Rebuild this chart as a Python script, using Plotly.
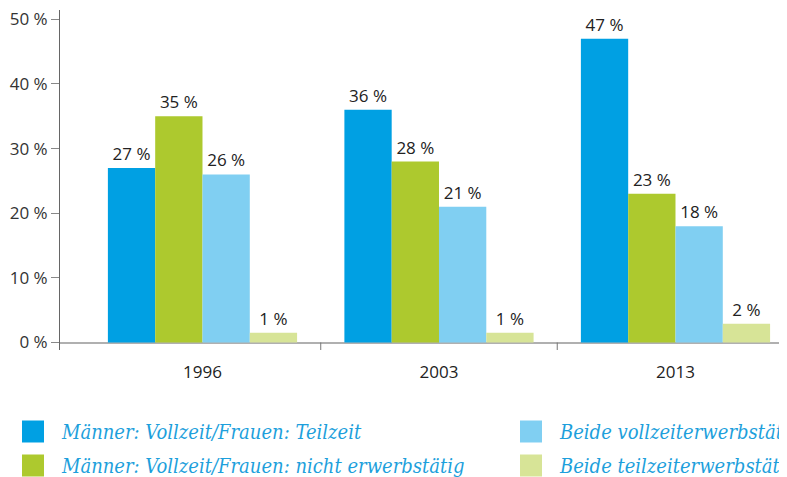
import plotly.graph_objects as go

years = ["1996", "2003", "2013"]
series_names = [
    "Männer: Vollzeit/Frauen: Teilzeit",
    "Männer: Vollzeit/Frauen: nicht erwerbstätig",
    "Beide vollzeiterwerbstätig",
    "Beide teilzeiterwerbstätig",
]
series_colors = ["#00a0e3", "#adc92e", "#80cff2", "#d7e497"]

# bar heights as drawn (percent)
vollzeit_teilzeit = [27, 36, 47]
vollzeit_nicht = [35, 28, 23]
beide_vollzeit = [26, 21, 18]
beide_teilzeit = [1.5, 1.5, 2.9]

# printed labels
labels_vollzeit_teilzeit = ["27 %", "36 %", "47 %"]
labels_vollzeit_nicht = ["35 %", "28 %", "23 %"]
labels_beide_vollzeit = ["26 %", "21 %", "18 %"]
labels_beide_teilzeit = ["1 %", "1 %", "2 %"]

y_tickvals = [0, 10, 20, 30, 40, 50]
y_ticktext = ["0 %", "10 %", "20 %", "30 %", "40 %", "50 %"]

values = [vollzeit_teilzeit, vollzeit_nicht, beide_vollzeit, beide_teilzeit]
labels = [labels_vollzeit_teilzeit, labels_vollzeit_nicht, labels_beide_vollzeit, labels_beide_teilzeit]

# the page body has an 8px margin, so the figure is 8px smaller and all
# page-pixel positions are shifted by OFF
OFF = 8
PW, PH = 787, 477
W, H = PW - OFF, PH - OFF
FONT = "Open Sans, Noto Sans, sans-serif"
YMIN, YMAX = -1.16, 51.44


def px(x):
    return (x - OFF) / W


def py(y):
    return (H - (y - OFF)) / H


fig = go.Figure()
for name, color, vals, labs in zip(series_names, series_colors, values, labels):
    fig.add_trace(go.Bar(
        x=years, y=vals, name=name, marker=dict(color=color, line=dict(width=0)),
        text=labs, texttemplate="%{text}", textposition="outside",
        textfont=dict(family=FONT, size=17, color="#222222"),
        constraintext="none", cliponaxis=False, showlegend=False,
    ))

# category divider ticks below the baseline
shapes = []
for b in [0.5, 1.5]:
    shapes.append(dict(type="line", xref="x", yref="y", x0=b, x1=b, y0=YMIN, y1=0,
                       line=dict(color="#777777", width=1)))

# manual legend (large square swatches, two columns)
legend_cols = [22, 520]
legend_rows = [431.5, 465.5]
sw = 22
annotations = []
order = [(0, 0), (0, 1), (1, 0), (1, 1)]  # (col,row) per series
for (c, r), name, color in zip(order, series_names, series_colors):
    x0 = legend_cols[c]
    yc = legend_rows[r]
    shapes.append(dict(type="rect", xref="paper", yref="paper",
                       x0=px(x0), x1=px(x0 + sw),
                       y0=py(yc + sw / 2), y1=py(yc - sw / 2),
                       fillcolor=color, line=dict(width=0)))
    annotations.append(dict(xref="paper", yref="paper", x=px(x0 + 37), y=py(yc),
                            xanchor="left", yanchor="middle", showarrow=False, text=name,
                            font=dict(family="DejaVu Serif Condensed, DejaVu Serif, serif",
                                      size=20, color="#1d9fdc", style="italic")))

fig.update_layout(
    width=W, height=H,
    margin=dict(l=0, r=0, t=0, b=0, autoexpand=False),
    paper_bgcolor="white", plot_bgcolor="white",
    barmode="group", bargap=0.2, bargroupgap=0,
    shapes=shapes, annotations=annotations,
    xaxis=dict(domain=[px(60), 1], range=[-0.6025, 2.4715], type="category",
               automargin=False,
               showgrid=False, showline=False, zeroline=False,
               ticks="outside", ticklen=7, tickcolor="rgba(0,0,0,0)",
               tickfont=dict(family=FONT, size=17, color="#222222")),
    yaxis=dict(domain=[py(350), py(10)], range=[YMIN, YMAX],
               automargin=False, ticklabeloverflow="allow",
               tickvals=y_tickvals, ticktext=y_ticktext,
               showgrid=False, showline=True, linecolor="#666666", linewidth=1,
               ticks="outside", ticklen=8, tickcolor="#888888", tickwidth=1,
               zeroline=True, zerolinecolor="#b0b0b0", zerolinewidth=2,
               tickfont=dict(family=FONT, size=17, color="#333333")),
)

fig.write_html("out.html")
